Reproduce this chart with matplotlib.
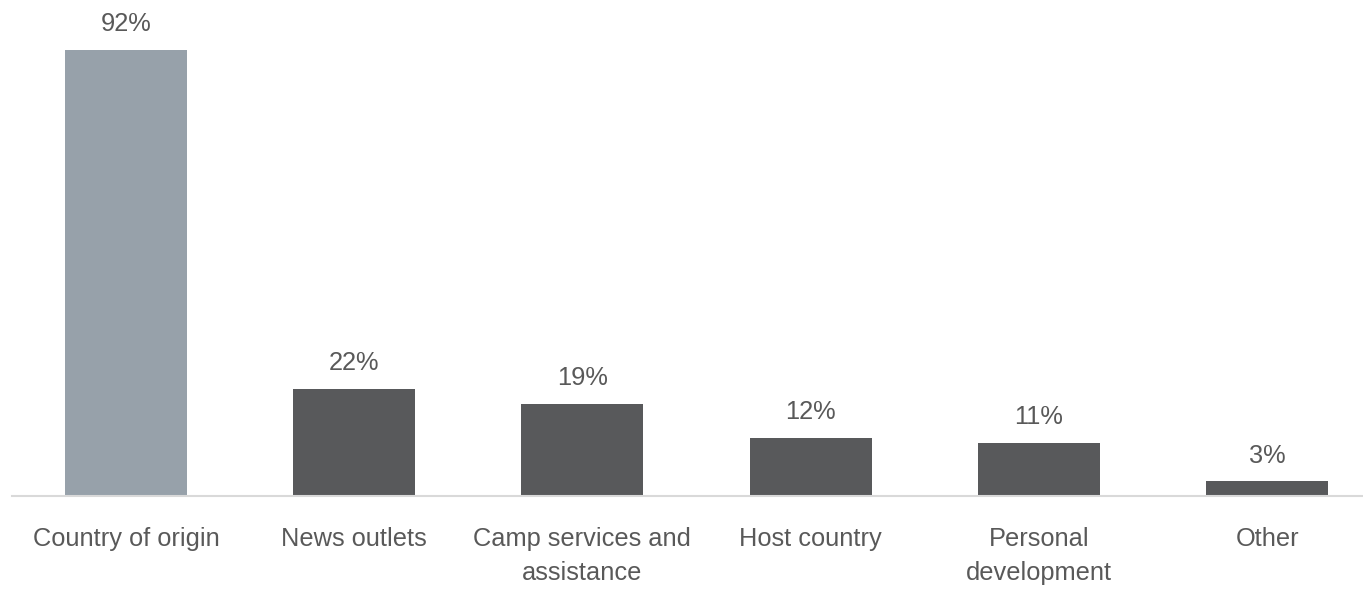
import matplotlib.pyplot as plt
from matplotlib import font_manager

categorias = ['Country of origin', 'News outlets', 'Camp services and\nassistance',
              'Host country', 'Personal\ndevelopment', 'Other']
valores = [92, 22, 19, 12, 11, 3]
cores = ['#97A1AA', '#58595B', '#58595B', '#58595B', '#58595B', '#58595B']

nomes = {f.name for f in font_manager.fontManager.ttflist}
fonte = 'Liberation Sans Narrow' if 'Liberation Sans Narrow' in nomes else 'Liberation Sans'
plt.rcParams['font.family'] = [fonte, 'DejaVu Sans']

fig = plt.figure(figsize=(13.63, 5.9), dpi=100)
ax = fig.add_axes([12 / 1363, 1 - 496 / 590, 1 - 12 / 1363, 484.8 / 590])

x = range(len(categorias))
barras = ax.bar(x, valores, width=0.534, color=cores)

# Rótulos de valor acima das barras
for b, v in zip(barras, valores):
    ax.annotate(f'{v}%', (b.get_x() + b.get_width() / 2, v), xytext=(0, 10),
                textcoords='offset points', ha='center', va='bottom',
                fontsize=18.3, color='#595959')

ax.set_xlim(-0.499, 5.42)
ax.set_ylim(0, 100)
ax.set_xticks(list(x))
ax.set_xticklabels(categorias, fontsize=18.3, color='#595959', linespacing=1.55)
ax.tick_params(axis='x', length=0, pad=22)
ax.set_yticks([])
for lado in ['top', 'right', 'left']:
    ax.spines[lado].set_visible(False)
ax.spines['bottom'].set_color('#D9D9D9')
ax.spines['bottom'].set_linewidth(1.5)

plt.savefig('out.png', dpi=100)
